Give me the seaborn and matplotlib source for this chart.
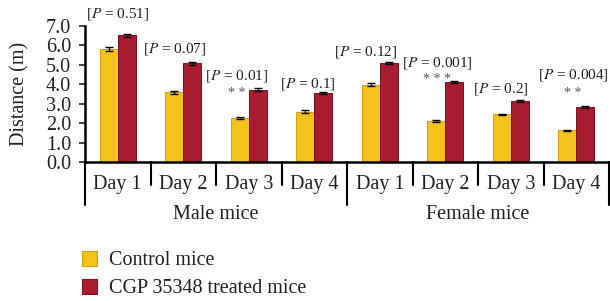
import matplotlib
matplotlib.use("Agg")
import matplotlib.pyplot as plt
import matplotlib.transforms as mtransforms
from matplotlib.patches import Patch
import numpy as np
import pandas as pd
import seaborn as sns

# ── Data ──────────────────────────────────────────────
GROUPS = ["Male mice", "Female mice"]
DAYS = ["Day 1", "Day 2", "Day 3", "Day 4"]
TREATMENTS = ["Control mice", "CGP 35348 treated mice"]

male_control = [5.80, 3.57, 2.25, 2.59]
male_treated = [6.50, 5.08, 3.72, 3.53]
female_control = [3.97, 2.11, 2.44, 1.62]
female_treated = [5.07, 4.09, 3.15, 2.84]

male_control_err = [0.10, 0.07, 0.05, 0.06]
male_treated_err = [0.08, 0.08, 0.07, 0.06]
female_control_err = [0.07, 0.06, 0.05, 0.03]
female_treated_err = [0.05, 0.05, 0.05, 0.05]

p_values = ["0.51", "0.07", "0.01", "0.1", "0.12", "0.001", "0.2", "0.004"]
stars = ["", "", "* *", "", "", "* * *", "", "* *"]

# ── Layout of annotations (slot offset, y in data units) ──
label_dx = [0.0, -0.13, -0.19, -0.10, -0.21, -0.12, -0.15, -0.05]
label_y = [7.62, 5.80, 4.42, 4.00, 5.65, 5.08, 3.75, 4.47]
star_y = [0, 0, 3.50, 0, 0, 4.25, 0, 3.50]

COLORS = ["#F4C21C", "#A81C30"]
EDGES = ["#D49E0C", "#7A1020"]
TEXT = "#231F20"

rows = []
for g, ctrl, trt, ce, te in [
    (GROUPS[0], male_control, male_treated, male_control_err, male_treated_err),
    (GROUPS[1], female_control, female_treated, female_control_err, female_treated_err),
]:
    for i, d in enumerate(DAYS):
        rows.append({"slot": f"{g} {d}", "day": d, "treatment": TREATMENTS[0],
                     "distance": ctrl[i], "err": ce[i]})
        rows.append({"slot": f"{g} {d}", "day": d, "treatment": TREATMENTS[1],
                     "distance": trt[i], "err": te[i]})
df = pd.DataFrame(rows)
slots = list(dict.fromkeys(df["slot"]))

# ── Plot ──────────────────────────────────────────────
sns.set_style("white")
plt.rcParams["font.family"] = ["Liberation Serif", "DejaVu Serif"]
plt.rcParams["mathtext.fontset"] = "stix"

fig = plt.figure(figsize=(6.10, 3.01), dpi=100)
ax = fig.add_axes([85 / 610, 1 - 162 / 301, 524 / 610, 136.3 / 301])

sns.barplot(data=df, x="slot", y="distance", hue="treatment", order=slots,
            hue_order=TREATMENTS, palette=COLORS, saturation=1, width=0.55, gap=0,
            errorbar=None, legend=False, ax=ax, zorder=2)

# colour edges + error bars from the bar geometry
for k, trt in enumerate(TREATMENTS):
    container = ax.containers[k]
    sub = df[df["treatment"] == trt].set_index("slot").loc[slots]
    xs = []
    for bar in container:
        bar.set_edgecolor(EDGES[k])
        bar.set_linewidth(0.7)
        xs.append(bar.get_x() + bar.get_width() / 2)
    ax.errorbar(xs, sub["distance"], yerr=sub["err"], fmt="none",
                ecolor="black", elinewidth=1.0, capsize=3.2, capthick=1.0, zorder=3)

ax.set_ylim(0, 7)
ax.set_xlim(-0.5, len(slots) - 0.5)
ax.set_yticks(np.arange(0, 8, 1))
ax.set_yticklabels([f"{v:.1f}" for v in np.arange(0, 8, 1)], fontsize=14.5, color=TEXT)
ax.set_xticks(range(len(slots)))
ax.set_xticklabels(DAYS * 2, fontsize=14.5, color=TEXT)
ax.tick_params(axis="x", length=0, pad=9)
ax.tick_params(axis="y", length=4, width=1.2, pad=6, direction="out", left=True)
ax.set_xlabel("")
ax.set_ylabel("Distance (m)", fontsize=14.5, color=TEXT, labelpad=12)

for side in ["top", "right"]:
    ax.spines[side].set_visible(False)
for side in ["left", "bottom"]:
    ax.spines[side].set_linewidth(1.8)
    ax.spines[side].set_color("black")

# separators under the axis
trans = mtransforms.blended_transform_factory(ax.transData, ax.transAxes)
for b in np.arange(-0.5, len(slots), 1.0):
    long_line = b in (-0.5, 3.5, 7.5)
    y_end = -0.315 if long_line else -0.17
    ax.plot([b, b], [0, y_end], color="black", lw=1.5, transform=trans, clip_on=False)

for gi, g in enumerate(GROUPS):
    ax.text(gi * 4 + 1.5, -0.385, g, transform=trans, ha="center", va="center",
            fontsize=14.5, color=TEXT)

# P values and significance stars
for i in range(len(slots)):
    ax.text(i + label_dx[i], label_y[i], f"[$P$ = {p_values[i]}]", ha="center",
            va="center", fontsize=11, color=TEXT)
    if stars[i]:
        ax.text(i + label_dx[i], star_y[i], stars[i], ha="center", va="center",
                fontsize=10, color="#555555")

handles = [Patch(facecolor=c, edgecolor=e, lw=0.8) for c, e in zip(COLORS, EDGES)]
fig.legend(handles, TREATMENTS, loc="upper left", bbox_to_anchor=(82 / 610, 1 - 251 / 301),
           frameon=False, fontsize=14.5, handlelength=0.75, handleheight=0.75,
           handletextpad=0.6, labelspacing=0.42, borderpad=0, borderaxespad=0,
           labelcolor=TEXT)

fig.savefig("out.png", dpi=100)
plt.close(fig)
